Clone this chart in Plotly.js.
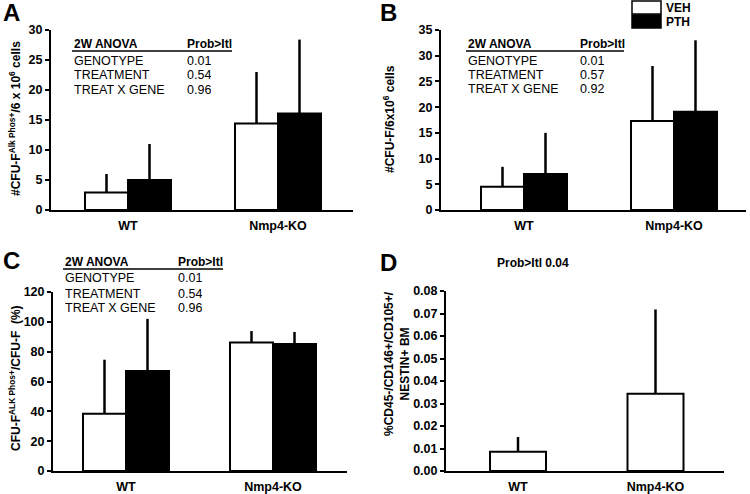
<!DOCTYPE html>
<html><head><meta charset="utf-8">
<script src="https://cdn.plot.ly/plotly-3.0.1.min.js"></script>
<style>html,body{margin:0;padding:0;background:#fff}#chart{width:750px;height:494px}</style>
</head><body><div id="chart"></div>
<script>
// ---- data ----
const genotypes = ['WT', 'Nmp4-KO'];
const treatments = ['VEH', 'PTH'];
// Panel A: #CFU-F Alk Phos+ / 6x10^6 cells
const A_veh = [2.9, 14.4];
const A_veh_sd = [3.1, 8.6];
const A_pth = [5.0, 16.1];
const A_pth_sd = [6.0, 12.3];
// Panel B: #CFU-F / 6x10^6 cells
const B_veh = [4.5, 17.3];
const B_veh_sd = [3.9, 10.7];
const B_pth = [7.0, 19.1];
const B_pth_sd = [8.0, 13.9];
// Panel C: CFU-F ALK Phos+ / CFU-F (%)
const C_veh = [38.4, 86.2];
const C_veh_sd = [36.2, 7.6];
const C_pth = [67.0, 85.2];
const C_pth_sd = [35.0, 8.0];
// Panel D: %CD45-/CD146+/CD105+/NESTIN+ BM
const D_veh = [0.0086, 0.0343];
const D_veh_sd = [0.0065, 0.0375];
// ANOVA tables
const anovaRows = ['GENOTYPE', 'TREATMENT', 'TREAT X GENE'];
const anovaA = ['0.01', '0.54', '0.96'];
const anovaB = ['0.01', '0.57', '0.92'];
const anovaC = ['0.01', '0.54', '0.96'];

// ---- layout helpers ----
const W = 750, H = 494;
const px = x => x / W;
const py = y => (H - y) / H;
const FONT = 'Liberation Sans, Arial, sans-serif';
const black = '#000';

function barTrace(xa, ya, y, sd, fill, off, w) {
  return {
    type: 'bar', x: genotypes, y: y, xaxis: xa, yaxis: ya,
    offset: off, width: w, showlegend: false, hoverinfo: 'skip',
    marker: {color: fill, line: {color: black, width: 2}},
    error_y: {type: 'data', symmetric: false, array: sd, arrayminus: sd.map(() => 0),
              width: 0, thickness: 2.5, color: black}
  };
}
const wA = 43/150, wB = 43/150, wC = 43/147, wD = 56/137.5;
const traces = [
  barTrace('x', 'y', A_veh, A_veh_sd, '#fff', -wA, wA),
  barTrace('x', 'y', A_pth, A_pth_sd, '#000', 0, wA),
  barTrace('x2', 'y2', B_veh, B_veh_sd, '#fff', -wB, wB),
  barTrace('x2', 'y2', B_pth, B_pth_sd, '#000', 0, wB),
  barTrace('x3', 'y3', C_veh, C_veh_sd, '#fff', -wC, wC),
  barTrace('x3', 'y3', C_pth, C_pth_sd, '#000', 0, wC),
  barTrace('x4', 'y4', D_veh, D_veh_sd, '#fff', -wD/2, wD)
];

function xax(d0, d1, r, anchor) {
  return {domain: [px(d0), px(d1)], range: r, anchor: anchor, type: 'category',
    showline: true, linecolor: black, linewidth: 2, ticks: '', showgrid: false, zeroline: false,
    ticklabelstandoff: 3,
    tickfont: {family: FONT, size: 12.5, color: black, weight: 'bold'}, fixedrange: true};
}
function yax(top, bot, r, dtick, anchor, fmt) {
  const o = {domain: [py(bot), py(top)], range: r, anchor: anchor, dtick: dtick, tick0: 0,
    showline: true, linecolor: black, linewidth: 2, ticks: 'outside', ticklen: 4, tickwidth: 2,
    tickcolor: black, showgrid: false, zeroline: false,
    tickfont: {family: FONT, size: 12.5, color: black, weight: 'bold'}, fixedrange: true};
  if (fmt) o.tickformat = fmt;
  return o;
}

const annotations = [];
const shapes = [];
function txt(x, y, t, size, bold, opts) {
  annotations.push(Object.assign({xref: 'paper', yref: 'paper', x: px(x), y: py(y), text: t,
    showarrow: false, xanchor: 'left', yanchor: 'middle',
    font: {family: FONT, size: size, color: black, weight: bold ? 'bold' : 'normal'}}, opts || {}));
}
function table(x0, x1, xEnd, yHead, yLine, rowsY, vals) {
  txt(x0, yHead, '2W ANOVA', 12, true, {height: 14});
  txt(x1, yHead, 'Prob&gt;Itl', 12, true, {height: 14});
  shapes.push({type: 'line', xref: 'paper', yref: 'paper', x0: px(x0), x1: px(xEnd), y0: py(yLine), y1: py(yLine),
    line: {color: black, width: 1.5}});
  anovaRows.forEach((r, i) => {
    txt(x0, rowsY[i], r, 12.5, false, {height: 14});
    txt(x1, rowsY[i], vals[i], 12.5, false, {height: 14});
  });
}
table(72, 185, 232, 44, 51, [61, 75, 90], anovaA);
table(466, 578, 624, 44, 51, [61, 75, 89], anovaB);
table(63, 176, 223, 262, 269, [278, 294, 308], anovaC);

// panel letters
txt(11, 12, 'A', 24, true, {xanchor: 'center'});
txt(388, 12, 'B', 24, true, {xanchor: 'center'});
txt(11, 261, 'C', 24, true, {xanchor: 'center'});
txt(388, 262, 'D', 24, true, {xanchor: 'center'});

// y titles
txt(15, 119, '#CFU-F<sup>Alk Phos+</sup>/6 x 10<sup>6</sup> cells', 12, true, {xanchor: 'center', textangle: -90});
txt(389, 119, '#CFU-F/6x10<sup>6</sup> cells', 12, true, {xanchor: 'center', textangle: -90});
txt(15, 378, 'CFU-F<sup>ALK Phos+</sup>/CFU-F  (%)', 12, true, {xanchor: 'center', textangle: -90});
txt(397, 364, '%CD45-/CD146+/CD105+/<br>NESTIN+ BM', 12, true, {xanchor: 'center', textangle: -90});

// D note
txt(533, 263, 'Prob&gt;Itl 0.04', 12, true, {xanchor: 'center'});

// legend
shapes.push({type: 'rect', xref: 'paper', yref: 'paper', x0: px(632), x1: px(661), y0: py(14), y1: py(1),
  fillcolor: '#fff', line: {color: black, width: 1.5}});
shapes.push({type: 'rect', xref: 'paper', yref: 'paper', x0: px(632), x1: px(661), y0: py(28), y1: py(15),
  fillcolor: '#000', line: {color: black, width: 1.5}});
txt(664, 8, treatments[0], 12, true, {height: 14});
txt(664, 22, treatments[1], 12, true, {height: 14});

const layout = {
  width: W, height: H, margin: {l: 0, r: 0, t: 0, b: 0},
  paper_bgcolor: '#fff', plot_bgcolor: '#fff', showlegend: false, barmode: 'overlay',
  font: {family: FONT, color: black},
  xaxis: xax(51, 353, [-77/150, 225/150], 'y'),
  yaxis: yax(30, 210, [0, 30], 5, 'x'),
  xaxis2: xax(441, 746, [-83/150, 222/150], 'y2'),
  yaxis2: yax(30, 210, [0, 35], 5, 'x2'),
  xaxis3: xax(53, 347, [-73/147, 221/147], 'y3'),
  yaxis3: yax(292, 471, [0, 120], 20, 'x3'),
  xaxis4: xax(446, 724, [-72/137.5, 206/137.5], 'y4'),
  yaxis4: yax(291, 471, [0, 0.08], 0.01, 'x4', '.2f'),
  annotations: annotations, shapes: shapes
};
Plotly.newPlot('chart', traces, layout, {staticPlot: true, displayModeBar: false});
</script></body></html>
